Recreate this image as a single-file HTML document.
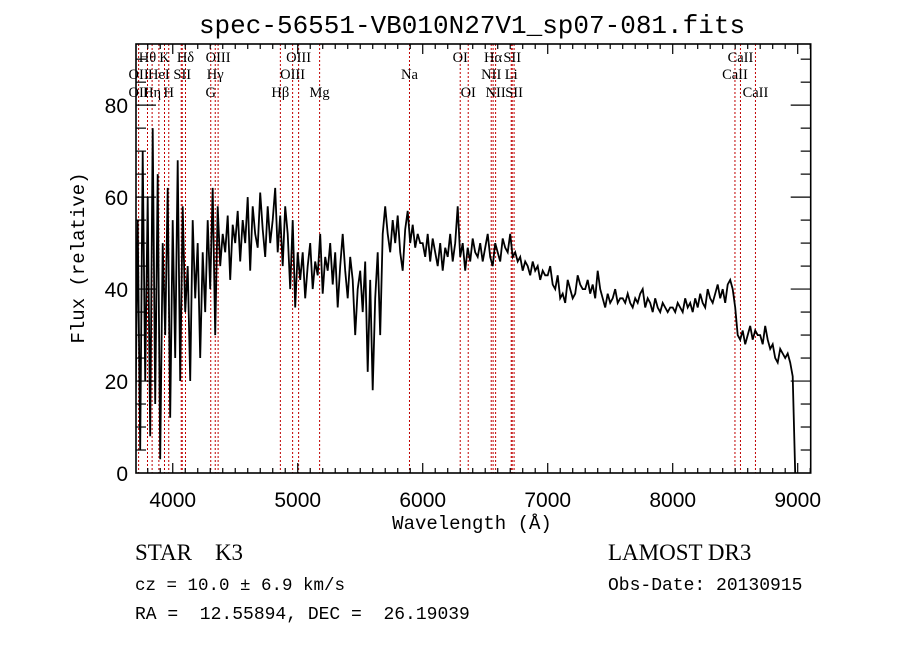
<!DOCTYPE html>
<html><head><meta charset="utf-8"><style>
html,body{margin:0;padding:0;background:#fff;width:900px;height:649px;overflow:hidden}
svg{display:block}
.mono{font-family:"Liberation Mono","DejaVu Sans Mono",monospace}
.ser{font-family:"Liberation Serif","DejaVu Serif",serif}
.sans{font-family:"Liberation Sans","DejaVu Sans",sans-serif}
</style></head><body>
<svg id="chart" width="900" height="649" viewBox="0 0 900 649">
<text class="mono" x="472" y="33" font-size="26" text-anchor="middle">spec-56551-VB010N27V1_sp07-081.fits</text>
<g id="lines"></g>
<g id="spec"></g>
<g id="axes"></g>
<text class="mono" x="472" y="529" font-size="19" text-anchor="middle">Wavelength (Å)</text>
<text class="mono" transform="translate(84,258) rotate(-90)" font-size="19" text-anchor="middle">Flux (relative)</text>
<text class="ser" x="135" y="560" font-size="23" xml:space="preserve">STAR    K3</text>
<text class="mono" x="135" y="590" font-size="17.5">cz = 10.0 ± 6.9 km/s</text>
<text class="mono" x="135" y="619" font-size="18" xml:space="preserve">RA =  12.55894, DEC =  26.19039</text>
<text class="ser" x="608" y="560" font-size="23">LAMOST DR3</text>
<text class="mono" x="608" y="590" font-size="18">Obs-Date: 20130915</text>
</svg>
<script>
const waveStart = 3700, waveStep = 20;
const flux = [
10,55,5,70,20,60,8,75,15,65,3,50,30,62,12,55,25,68,20,58,35,
45,20,55,38,50,25,48,35,55,40,62,30,58,45,52,48,56,42,54,50,
57,46,55,50,60,44,58,52,49,61,53,47,58,50,55,62,48,56,45,58,52,40,55,36,48,
42,48,38,45,50,40,46,43,52,39,47,44,50,41,48,36,45,52,44,38,47,42,30,40,
44,35,46,22,42,18,38,48,30,52,
58,52,48,55,50,56,48,44,53,57,50,54,49,52,50,
50,47,52,46,51,48,45,50,44,49,47,52,46,50,58,
47,50,44,49,46,51,48,47,50,46,49,52,47,45,50,48,46,51,49,48,
52,47,48,46,47,44,46,45,43,46,44,45,42,44,43,
43,45,41,40,43,38,39,37,42,40,38,39,43,41,40,
40,42,39,41,38,44,40,38,36,39,37,38,40,37,38,
38,37,39,37,36,38,37,39,40,36,38,37,35,38,36,35,37,36,35,36,
36,35,37,36,35,38,36,37,35,38,36,39,37,36,40,38,37,39,41,38,40,37,41,42,40,
36,30,29,31,28,30,32,29,31,30,
30,28,32,29,27,28,25,24,27,26,25,26,24,21,0
];
const lineWaves = [3727,3798,3835,3889,3934,3968,4068,4076,4102,4304,4340,4363,4861,4959,5007,5175,5894,6300,6364,6548,6563,6583,6708,6716,6731,8498,8542,8662];
const labelText = ["Hθ","K","Hδ","OIII","OIII","OI","Hα","SII","CaII","OII","HeI","SII","Hγ","OIII","Na","NII","Li","CaII","OII","Hη","H","G","Hβ","Mg","OI","NII","SII","CaII"];
const labelWave = [3798,3934,4102,4363,5007,6300,6563,6716,8542,3727,3889,4076,4340,4959,5894,6548,6708,8498,3727,3835,3968,4304,4861,5175,6364,6583,6731,8662];
const labelRow = [0,0,0,0,0,0,0,0,0,1,1,1,1,1,1,1,1,1,2,2,2,2,2,2,2,2,2,2];
const xTicks = [4000,5000,6000,7000,8000,9000];
const yTicks = [0,20,40,60,80];

const X0=136,X1=810.7,Y0=473,Y1=44, WMIN=3706, WMAX=9104, FMIN=0, FMAX=93.3;
const NS='http://www.w3.org/2000/svg';
function sx(w){return X0+(w-WMIN)/(WMAX-WMIN)*(X1-X0);}
function sy(f){return Y0-(f-FMIN)/(FMAX-FMIN)*(Y0-Y1);}
function mk(tag,attrs,parent){const e=document.createElementNS(NS,tag);for(const k in attrs)e.setAttribute(k,attrs[k]);parent.appendChild(e);return e;}

const svg=document.getElementById('chart');
const defs=mk('defs',{},svg);
const cp=mk('clipPath',{id:'clip'},defs);
mk('rect',{x:X0,y:Y1,width:X1-X0,height:Y0-Y1},cp);

const gl=document.getElementById('lines');
lineWaves.forEach(w=>{
  const l=mk('line',{x1:sx(w),x2:sx(w),y1:Y1,y2:Y0,stroke:'#c00000','stroke-width':1,'stroke-dasharray':'2,2'},gl);
  
  
});
const rowY=[62,79,97];
labelText.forEach((t,i)=>{
  const e=mk('text',{x:sx(labelWave[i]),y:rowY[labelRow[i]],'font-size':14.5,'text-anchor':'middle','class':'ser'},gl);
  e.textContent=t;
  
  
});

const gs=document.getElementById('spec');
let pts=flux.map((f,i)=>sx(waveStart+i*waveStep).toFixed(1)+','+sy(f).toFixed(1)).join(' ');
const pl=mk('polyline',{points:pts,fill:'none',stroke:'#000','stroke-width':1.8,'clip-path':'url(#clip)','stroke-linejoin':'miter'},gs);



const ga=document.getElementById('axes');
const fr=mk('rect',{x:X0,y:Y1,width:X1-X0,height:Y0-Y1,fill:'none',stroke:'#000','stroke-width':1.6},ga);


for(let w=3800;w<=9100;w+=100){
  const major=(w%1000===0), L=major?10:5, x=sx(w);
  mk('line',{x1:x,x2:x,y1:Y0,y2:Y0-L,stroke:'#000','stroke-width':1.2},ga);
  mk('line',{x1:x,x2:x,y1:Y1,y2:Y1+L,stroke:'#000','stroke-width':1.2},ga);
}
for(let f=5;f<=90;f+=5){
  const major=(f%20===0), L=major?20:10, y=sy(f);
  mk('line',{x1:X0,x2:X0+L,y1:y,y2:y,stroke:'#000','stroke-width':1.2},ga);
  mk('line',{x1:X1,x2:X1-L,y1:y,y2:y,stroke:'#000','stroke-width':1.2},ga);
}
xTicks.forEach(w=>{
  const t=mk('text',{x:sx(w),y:Y0+34,'font-size':21,'text-anchor':'middle','class':'sans'},ga);
  t.textContent=w;
  
  
});
yTicks.forEach(f=>{
  const t=mk('text',{x:128,y:sy(f)+8,'font-size':21,'text-anchor':'end','class':'sans'},ga);
  t.textContent=f;
  
  
});
</script>
</body></html>
